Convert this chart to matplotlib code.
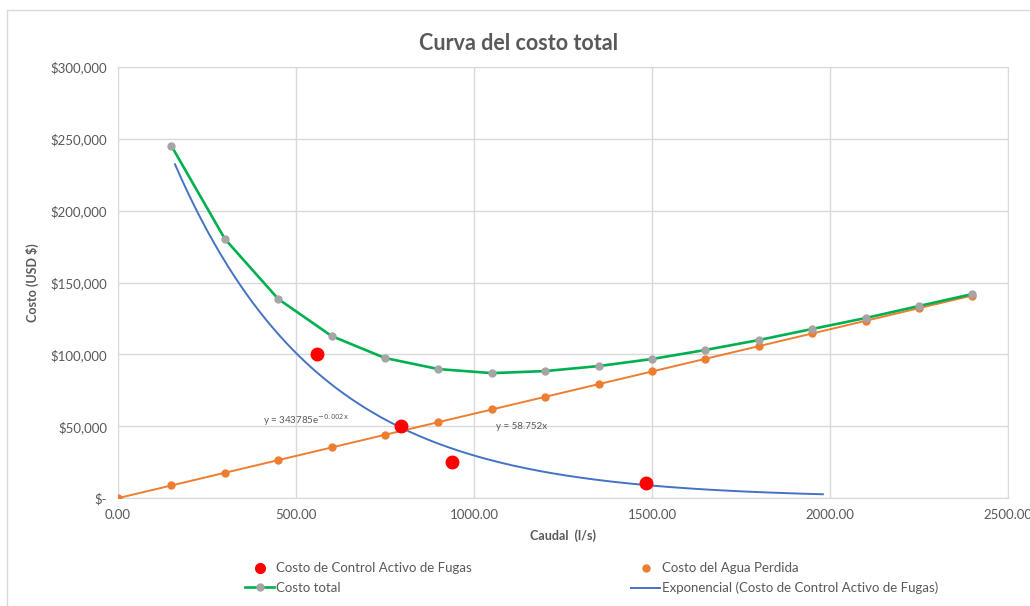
import numpy as np
import matplotlib
matplotlib.use("Agg")
import matplotlib.pyplot as plt
from matplotlib.ticker import FuncFormatter
from matplotlib.patches import Rectangle

plt.rcParams['font.family'] = ['Lato', 'DejaVu Sans']

# Costo de Control Activo de Fugas (puntos rojos)
control_x = [560, 795, 938, 1482]
control_y = [100300, 50100, 25100, 10400]

# Costo del Agua Perdida
agua_x = [0, 150, 300, 450, 600, 750, 900, 1050, 1200, 1350, 1500,
          1650, 1800, 1950, 2100, 2250, 2400]
agua_y = [0, 8813, 17626, 26438, 35251, 44064, 52877, 61690, 70502,
          79315, 88128, 96941, 105754, 114566, 123379, 132192, 141005]

# Costo total
total_x = [150, 300, 450, 600, 750, 900, 1050, 1200, 1350, 1500,
           1650, 1800, 1950, 2100, 2250, 2400]
total_y = [245100, 180400, 138600, 112800, 97500, 89800, 87000, 88400,
           91900, 96800, 103100, 110000, 117700, 125300, 133700, 142000]

# tendencia exponencial y = a * e^(b x)
trend_a = 343785
trend_b = -0.00245
trend_range = (160, 1980)

GRAY = "#595959"

fig = plt.figure(figsize=(10.30, 6.06), dpi=100)
ax = fig.add_axes([0.1146, 0.178, 0.8640, 0.7114])

# borde del área del gráfico (cortado a la derecha como en el original)
fig.patches.append(Rectangle((0.007, -0.02), 1.1, 1.003, transform=fig.transFigure,
                             fill=False, edgecolor="#D9D9D9", linewidth=1))

tx = np.linspace(trend_range[0], trend_range[1], 200)
ax.plot(tx, trend_a * np.exp(trend_b * tx), color="#4472C4", lw=1.4, zorder=3)
ax.plot(agua_x, agua_y, color="#ED7D31", lw=1.4, marker="o", ms=5,
        markerfacecolor="#ED7D31", markeredgecolor="#ED7D31", zorder=4)
ax.plot(total_x, total_y, color="#00B050", lw=1.9, marker="o", ms=5,
        markerfacecolor="#A5A5A5", markeredgecolor="#A5A5A5", zorder=5)
ax.plot(control_x, control_y, ls="none", marker="o", ms=9, color="#FF0000", zorder=6)

ax.set_xlim(0, 2500)
ax.set_ylim(0, 300000)
ax.set_xticks(np.arange(0, 2501, 500))
ax.set_yticks(np.arange(0, 300001, 50000))
ax.xaxis.set_major_formatter(FuncFormatter(lambda v, p: f"{v:.2f}"))
ax.yaxis.set_major_formatter(FuncFormatter(lambda v, p: "$-" if v == 0 else f"${v:,.0f}"))
ax.tick_params(length=0, labelsize=9.5, colors=GRAY, pad=8)
ax.grid(True, color="#D9D9D9", lw=1)
ax.set_axisbelow(True)
for s in ax.spines.values():
    s.set_color("#D9D9D9")

ax.set_xlabel("Caudal  (l/s)", fontsize=9, fontweight="bold", color=GRAY, labelpad=6)
ax.set_ylabel("Costo (USD $)", fontsize=9, fontweight="bold", color=GRAY, labelpad=8)
fig.text(0.503, 0.929, "Curva del costo total", ha="center", va="center",
         fontsize=15.5, fontweight="bold", color=GRAY)

ax.text(527, 54000, r"y = 343785e$^{\mathrm{-0.002x}}$", fontsize=7, color=GRAY,
        ha="center", va="center")
ax.text(1135, 50000, "y = 58.752x", fontsize=7, color=GRAY, ha="center", va="center")

h_red, = ax.plot([], [], ls="none", marker="o", ms=7, color="#FF0000")
h_org, = ax.plot([], [], ls="none", marker="o", ms=5, color="#ED7D31")
h_tot, = ax.plot([], [], color="#00B050", lw=1.9, marker="o", ms=5,
                 markerfacecolor="#A5A5A5", markeredgecolor="#A5A5A5")
h_exp, = ax.plot([], [], color="#4472C4", lw=1.4)

leg_kw = dict(frameon=False, fontsize=9.5, handlelength=2.2, handletextpad=0.15,
              labelspacing=0.55, labelcolor=GRAY, borderaxespad=0, borderpad=0)
fig.legend([h_red, h_tot], ["Costo de Control Activo de Fugas", "Costo total"],
           loc="upper left", bbox_to_anchor=(0.238, 0.072), **leg_kw)
fig.legend([h_org, h_exp], ["Costo del Agua Perdida",
                            "Exponencial (Costo de Control Activo de Fugas)"],
           loc="upper left", bbox_to_anchor=(0.613, 0.072), **leg_kw)

plt.savefig("out.png", dpi=100)
